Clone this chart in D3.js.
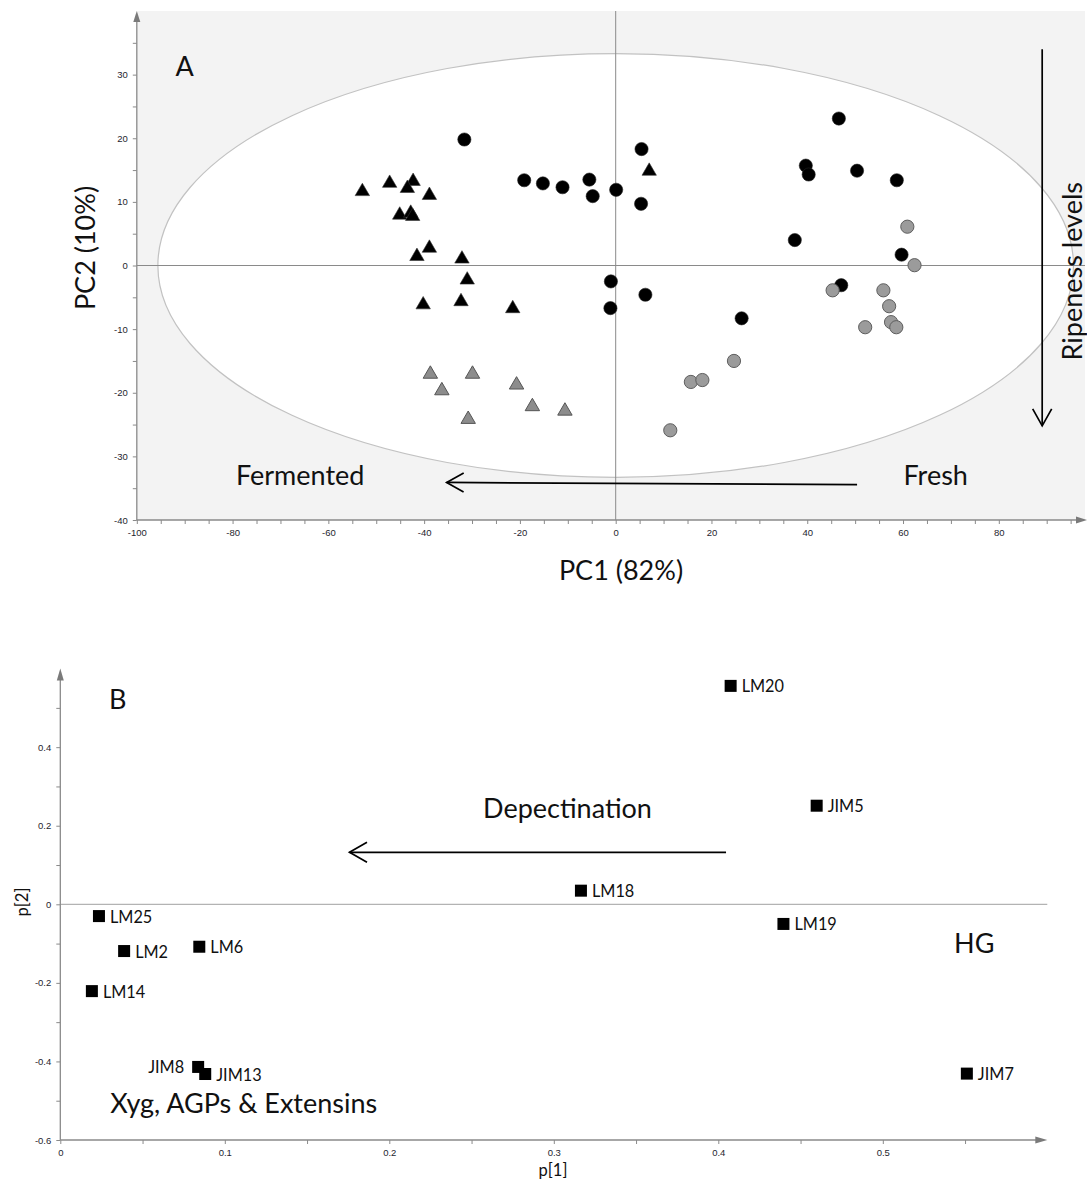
<!DOCTYPE html>
<html>
<head>
<meta charset="utf-8">
<script src="https://cdn.jsdelivr.net/npm/d3@7"></script>
<style>
  html, body { margin: 0; padding: 0; background: #ffffff; }
  svg { display: block; }
</style>
</head>
<body>
<script>
// ---------------- DATA ----------------
// Panel A: PCA scores (PC1, PC2)
const blackTriangles = [[-52.9,11.8],[-47.2,13.1],[-42.3,13.4],[-43.5,12.3],[-38.9,11.2],[-45.1,8.1],[-42.8,8.4],[-42.4,7.9],[-38.9,2.9],[-41.5,1.6],[-32.1,1.2],[-31.0,-2.1],[-40.2,-6.0],[-32.3,-5.5],[-21.5,-6.6],[7.0,15.0]];
const grayTriangles = [[-38.7,-16.9],[-29.9,-16.9],[-36.3,-19.5],[-20.7,-18.6],[-17.4,-22.0],[-10.6,-22.7],[-30.8,-24.0]];
const blackCircles = [[-31.6,19.8],[-19.1,13.4],[-15.2,12.9],[-11.1,12.3],[-5.5,13.5],[-4.8,10.9],[0.1,11.9],[5.4,18.3],[5.3,9.7],[-1.0,-2.5],[6.2,-4.6],[-1.1,-6.7],[26.3,-8.3],[46.6,23.1],[39.7,15.7],[40.3,14.3],[50.4,14.9],[58.7,13.4],[37.4,4.0],[59.7,1.7],[47.1,-3.1]];
const grayCircles = [[60.9,6.1],[62.4,0.05],[45.3,-3.9],[55.9,-3.9],[57.1,-6.4],[57.5,-8.9],[58.6,-9.7],[52.1,-9.7],[24.7,-15.0],[15.7,-18.3],[18.1,-18.0],[11.4,-25.9]];
const ellipseRadii = [95.6, 33.3];           // Hotelling T2 ellipse (PC1, PC2 units)
const pc1Domain = [-100, 98];
const pc2Domain = [-40, 40];

// Panel B: loadings p[1], p[2]
const loadingNames = ["LM20","JIM5","LM18","LM19","LM25","LM2","LM6","LM14","JIM8","JIM13","JIM7"];
const loadingP1    = [0.4075,0.4598,0.3165,0.4396,0.0235,0.0388,0.0845,0.0192,0.0838,0.0881,0.5511];
const loadingP2    = [0.556,0.251,0.0347,-0.050,-0.030,-0.119,-0.108,-0.221,-0.414,-0.432,-0.431];
const labelLeft    = ["JIM8"];
const p1Domain = [0, 0.6];
const p2Domain = [-0.6, 0.6];

// Annotations (in data units of each panel)
const annotA = [
  {text:"A", x:-91.9, y:29.8},
  {text:"Fermented", x:-79.3, y:-34.5},
  {text:"Fresh", x:60.1, y:-34.5}
];
const arrowsA = [
  {from:[50.4,-34.45], to:[-35.3,-34.1]},
  {from:[89.06,34.0], to:[89.06,-25.2]}
];
const ripenessLabel = {text:"Ripeness levels", x:97.3, y:-0.9};
const annotB = [
  {text:"B", x:0.0296, y:0.497},
  {text:"Depectination", x:0.257, y:0.2197},
  {text:"HG", x:0.5433, y:-0.124},
  {text:"Xyg, AGPs & Extensins", x:0.0303, y:-0.531}
];
const arrowsB = [
  {from:[0.4047,0.1324], to:[0.1758,0.1324]}
];

// ---------------- LAYOUT ----------------
const W = 1087, H = 1183;
const FONT = "Lato, 'Open Sans', sans-serif";
const TICKFONT = "'Liberation Sans', Arial, sans-serif";
const AXIS_COLOR = "#8a8a8a";
const ANN_SIZE = 27;

const svg = d3.select("body").append("svg")
  .attr("width", W).attr("height", H)
  .attr("font-family", FONT);

const xA = d3.scaleLinear().domain(pc1Domain).range([136.8, 1085]);
const yA = d3.scaleLinear().domain(pc2Domain).range([520, 11]);
const xB = d3.scaleLinear().domain(p1Domain).range([60.3, 1047.3]);
const yB = d3.scaleLinear().domain(p2Domain).range([1140, 668.6]);

function arrowHeadPath(x1, y1, x2, y2, len, half) {
  const a = Math.atan2(y2 - y1, x2 - x1);
  const bx = x2 - len * Math.cos(a), by = y2 - len * Math.sin(a);
  const px = -Math.sin(a) * half, py = Math.cos(a) * half;
  return `M${bx+px},${by+py}L${x2},${y2}L${bx-px},${by-py}`;
}
function filledHead(g, x, y, dir, len, half) {
  let p;
  if (dir === "up") p = `M${x},${y}L${x+half},${y+len}L${x-half},${y+len}Z`;
  else p = `M${x},${y}L${x-len},${y-half}L${x-len},${y+half}Z`;
  g.append("path").attr("d", p).attr("fill", "#7a7a7a");
}

// ---------------- PANEL A ----------------
const gA = svg.append("g");
const [x0A, x1A] = xA.range();
const [yBotA, yTopA] = yA.range();

gA.append("rect")
  .attr("x", x0A).attr("y", yTopA)
  .attr("width", x1A - x0A).attr("height", yBotA - yTopA)
  .attr("fill", "#f3f3f3");

gA.append("ellipse")
  .attr("cx", xA(0)).attr("cy", yA(0))
  .attr("rx", xA(ellipseRadii[0]) - xA(0))
  .attr("ry", yA(0) - yA(ellipseRadii[1]))
  .attr("fill", "#ffffff")
  .attr("stroke", "#c2c2c2").attr("stroke-width", 1.2);

// zero lines
gA.append("line").attr("x1", xA(0)).attr("x2", xA(0)).attr("y1", yTopA).attr("y2", yBotA)
  .attr("stroke", AXIS_COLOR).attr("stroke-width", 1);
gA.append("line").attr("x1", x0A).attr("x2", x1A).attr("y1", yA(0)).attr("y2", yA(0))
  .attr("stroke", AXIS_COLOR).attr("stroke-width", 1);

// axes
const yAxisA = d3.axisLeft(yA)
  .tickValues(d3.range(-40, 40, 5))
  .tickFormat(d => (d % 10 === 0 ? String(d) : ""))
  .tickSizeInner(4).tickSizeOuter(0).tickPadding(5);
const gyA = gA.append("g").attr("transform", `translate(${x0A},0)`).call(yAxisA);
const xAxisA = d3.axisBottom(xA)
  .tickValues(d3.range(-100, 98, 5))
  .tickFormat(d => (d % 20 === 0 ? String(d) : ""))
  .tickSizeInner(4).tickSizeOuter(0).tickPadding(5);
const gxA = gA.append("g").attr("transform", `translate(0,${yBotA})`).call(xAxisA);
[gyA, gxA].forEach(g => {
  g.select(".domain").remove();
  g.selectAll(".tick line").attr("stroke", AXIS_COLOR);
  g.selectAll(".tick text").attr("font-family", TICKFONT).attr("font-size", 9.5).attr("fill", "#1e1e2e");
});
gA.append("line").attr("x1", x0A).attr("x2", x0A).attr("y1", yBotA).attr("y2", yTopA + 4)
  .attr("stroke", AXIS_COLOR).attr("stroke-width", 1.3);
gA.append("line").attr("x1", x0A).attr("x2", x1A - 4).attr("y1", yBotA).attr("y2", yBotA)
  .attr("stroke", AXIS_COLOR).attr("stroke-width", 1.3);
filledHead(gA, x0A, yTopA, "up", 11, 3.5);
filledHead(gA, x1A + 2, yBotA, "right", 11, 3.5);

// markers
const triPath = "M0,-7.2L7.2,5.2L-7.2,5.2Z";
gA.append("g").selectAll("circle.bc").data(blackCircles).join("circle")
  .attr("cx", d => xA(d[0])).attr("cy", d => yA(d[1])).attr("r", 6.6)
  .attr("fill", "#000").attr("stroke", "#222").attr("stroke-width", 0.6);
gA.append("g").selectAll("circle.gc").data(grayCircles).join("circle")
  .attr("cx", d => xA(d[0])).attr("cy", d => yA(d[1])).attr("r", 6.6)
  .attr("fill", "#9b9b9b").attr("stroke", "#5e5e5e").attr("stroke-width", 1);
gA.append("g").selectAll("path.bt").data(blackTriangles).join("path")
  .attr("d", triPath)
  .attr("transform", d => `translate(${xA(d[0])},${yA(d[1])})`)
  .attr("fill", "#000").attr("stroke", "#333").attr("stroke-width", 0.6);
gA.append("g").selectAll("path.gt").data(grayTriangles).join("path")
  .attr("d", triPath)
  .attr("transform", d => `translate(${xA(d[0])},${yA(d[1])})`)
  .attr("fill", "#8c8c8c").attr("stroke", "#555").attr("stroke-width", 1);

// annotations
gA.selectAll("text.ann").data(annotA).join("text")
  .attr("x", d => xA(d.x)).attr("y", d => yA(d.y))
  .attr("font-size", ANN_SIZE).attr("fill", "#111").text(d => d.text);
arrowsA.forEach(a => {
  const x1 = xA(a.from[0]), y1 = yA(a.from[1]), x2 = xA(a.to[0]), y2 = yA(a.to[1]);
  gA.append("line").attr("x1", x1).attr("y1", y1).attr("x2", x2).attr("y2", y2)
    .attr("stroke", "#000").attr("stroke-width", 1.7);
  gA.append("path").attr("d", arrowHeadPath(x1, y1, x2, y2, 17, 9.5))
    .attr("fill", "none").attr("stroke", "#000").attr("stroke-width", 1.7);
});
gA.append("text")
  .attr("transform", `translate(${xA(ripenessLabel.x)},${yA(ripenessLabel.y)}) rotate(-90)`)
  .attr("text-anchor", "middle").attr("font-size", ANN_SIZE).attr("fill", "#111")
  .text(ripenessLabel.text);

// axis titles
svg.append("text").attr("transform", "translate(95,248) rotate(-90)")
  .attr("text-anchor", "middle").attr("font-size", ANN_SIZE).attr("fill", "#111").text("PC2 (10%)");
svg.append("text").attr("x", 621).attr("y", 580)
  .attr("text-anchor", "middle").attr("font-size", ANN_SIZE).attr("fill", "#111").text("PC1 (82%)");

// ---------------- PANEL B ----------------
const gB = svg.append("g");
const [x0B, x1B] = xB.range();
const [yBotB, yTopB] = yB.range();

gB.append("line").attr("x1", x0B).attr("x2", x1B).attr("y1", yB(0)).attr("y2", yB(0))
  .attr("stroke", "#a0a0a0").attr("stroke-width", 1);

const fmt1 = d => String(+d.toFixed(2));
const yAxisB = d3.axisLeft(yB)
  .tickValues(d3.range(-6, 6, 1).map(v => v / 10))
  .tickFormat(d => (Math.round(d * 10) % 2 === 0 ? fmt1(d) : ""))
  .tickSizeInner(4).tickSizeOuter(0).tickPadding(5);
const gyB = gB.append("g").attr("transform", `translate(${x0B},0)`).call(yAxisB);
const xAxisB = d3.axisBottom(xB)
  .tickValues(d3.range(0, 12, 1).map(v => v / 20))
  .tickFormat(d => (Math.round(d * 20) % 2 === 0 ? fmt1(d) : ""))
  .tickSizeInner(4).tickSizeOuter(0).tickPadding(5);
const gxB = gB.append("g").attr("transform", `translate(0,${yBotB})`).call(xAxisB);
[gyB, gxB].forEach(g => {
  g.select(".domain").remove();
  g.selectAll(".tick line").attr("stroke", AXIS_COLOR);
  g.selectAll(".tick text").attr("font-family", TICKFONT).attr("font-size", 9.5).attr("fill", "#1e1e2e");
});
gB.append("line").attr("x1", x0B).attr("x2", x0B).attr("y1", yBotB).attr("y2", yTopB + 4)
  .attr("stroke", AXIS_COLOR).attr("stroke-width", 1.3);
gB.append("line").attr("x1", x0B).attr("x2", x1B - 4).attr("y1", yBotB).attr("y2", yBotB)
  .attr("stroke", AXIS_COLOR).attr("stroke-width", 1.3);
filledHead(gB, x0B, yTopB, "up", 12, 3.5);
filledHead(gB, x1B, yBotB, "right", 12, 3.5);

// loadings
const loadings = loadingNames.map((n, i) => ({name: n, p1: loadingP1[i], p2: loadingP2[i]}));
gB.append("g").selectAll("rect").data(loadings).join("rect")
  .attr("x", d => xB(d.p1) - 6).attr("y", d => yB(d.p2) - 6)
  .attr("width", 12).attr("height", 12).attr("fill", "#000");
gB.append("g").selectAll("text").data(loadings).join("text")
  .attr("x", d => labelLeft.includes(d.name) ? xB(d.p1) - 14 : xB(d.p1) + 11)
  .attr("y", d => yB(d.p2) + 6.5)
  .attr("text-anchor", d => labelLeft.includes(d.name) ? "end" : "start")
  .attr("font-size", 16.3).attr("fill", "#111")
  .text(d => d.name);

gB.selectAll("text.ann").data(annotB).join("text")
  .attr("x", d => xB(d.x)).attr("y", d => yB(d.y))
  .attr("font-size", ANN_SIZE).attr("fill", "#111").text(d => d.text);
arrowsB.forEach(a => {
  const x1 = xB(a.from[0]), y1 = yB(a.from[1]), x2 = xB(a.to[0]), y2 = yB(a.to[1]);
  gB.append("line").attr("x1", x1).attr("y1", y1).attr("x2", x2).attr("y2", y2)
    .attr("stroke", "#000").attr("stroke-width", 1.7);
  gB.append("path").attr("d", arrowHeadPath(x1, y1, x2, y2, 17.5, 10))
    .attr("fill", "none").attr("stroke", "#000").attr("stroke-width", 1.7);
});

svg.append("text").attr("transform", "translate(28,902) rotate(-90)")
  .attr("text-anchor", "middle").attr("font-size", 16.5).attr("fill", "#111").text("p[2]");
svg.append("text").attr("x", 553).attr("y", 1176)
  .attr("text-anchor", "middle").attr("font-size", 16.5).attr("fill", "#111").text("p[1]");
</script>
</body>
</html>
